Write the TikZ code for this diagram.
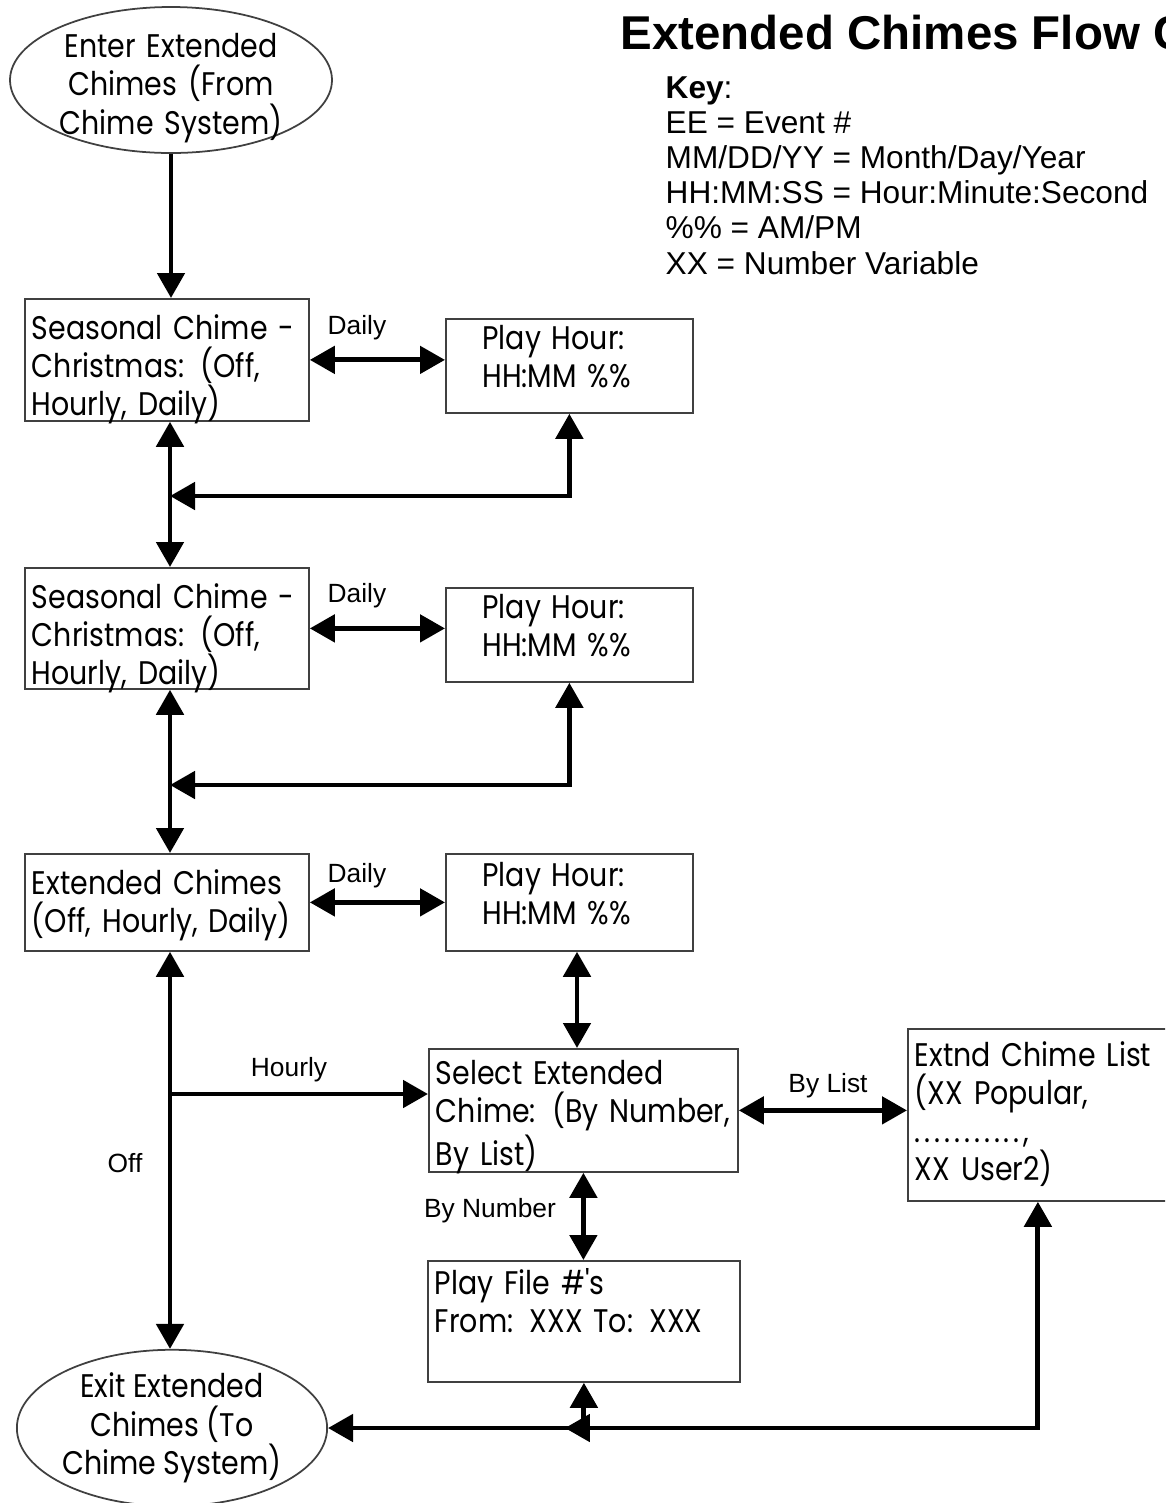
\documentclass[tikz,border=0pt]{standalone}
\usepackage{fontspec}
\setmainfont{Liberation Sans}
\newfontfamily\boxfont[FakeStretch=0.87]{Poppins}
\usetikzlibrary{shapes.geometric,arrows.meta}

\tikzset{
    chbox/.style={rectangle, draw=black!75, line width=0.5pt, anchor=north west,
        inner xsep=2pt, inner ysep=0pt, align=left, text height=0pt,
        font=\boxfont\fontsize{9.3}{10.8}\selectfont},
    hourbox/.style={chbox, minimum width=2.47cm, text width=1.74cm},
    chend/.style={ellipse, draw=black!75, line width=0.5pt, inner sep=0pt, align=center,
        font=\boxfont\fontsize{9.3}{11}\selectfont},
    lbl/.style={font=\fontsize{7.5}{9}\selectfont},
    keyline/.style={anchor=base west, inner sep=0pt, font=\fontsize{9}{10.5}\selectfont},
    arr/.style={line width=1.4pt, -{Triangle[length=2.5mm,width=2.7mm]}},
    darr/.style={line width=1.4pt, {Triangle[length=2.5mm,width=2.7mm]}-{Triangle[length=2.5mm,width=2.7mm]}}
}

\begin{document}
\begin{tikzpicture}
    \useasboundingbox (0,0) rectangle (11.65,-15.03);
    \clip (0,0) rectangle (11.65,-15.03);

    \node[anchor=base west, inner sep=0pt, font=\bfseries\fontsize{13.5}{16}\selectfont] (title) at (6.20,-0.49) {Extended Chimes Flow Chart};
    \node[keyline] (key0) at (6.65,-0.98) {\textbf{Key}:};
    \foreach \t [count=\i] in {EE = Event \#, MM/DD/YY = Month/Day/Year, HH:MM:SS = Hour:Minute:Second, \%\% = AM/PM, XX = Number Variable}
        \node[keyline] (key\i) at (6.65,-0.98-0.352*\i) {\t};

    \coordinate (spine) at (1.70,0);

    \node[chend, minimum width=3.22cm, minimum height=1.46cm, text width=2.25cm, text height=0pt, text depth=0.46cm] (enter) at (1.71,-0.80) {Enter Extended\\Chimes (From\\Chime System)};

    \node[chbox, minimum width=2.84cm, minimum height=1.22cm, text width=2.70cm, text depth=0.40cm] (box1) at (0.24,-2.98) {Seasonal Chime -\\Christmas: (Off,\\Hourly, Daily)};
    \node[hourbox, minimum height=0.94cm, text depth=0.32cm] (hour1) at (4.45,-3.18) {Play Hour:\\HH:MM \%\%};

    \node[chbox, minimum width=2.84cm, minimum height=1.21cm, text width=2.70cm, text depth=0.39cm] (box2) at (0.24,-5.67) {Seasonal Chime -\\Christmas: (Off,\\Hourly, Daily)};
    \node[hourbox, minimum height=0.94cm, text depth=0.32cm] (hour2) at (4.45,-5.87) {Play Hour:\\HH:MM \%\%};

    \node[chbox, minimum width=2.84cm, minimum height=0.97cm, text width=2.70cm, text depth=0.15cm] (box3) at (0.24,-8.53) {Extended Chimes\\(Off, Hourly, Daily)};
    \node[hourbox, minimum height=0.97cm, text depth=0.31cm] (hour3) at (4.45,-8.53) {Play Hour:\\HH:MM \%\%};

    \node[chbox, minimum width=3.09cm, minimum height=1.23cm, text width=2.95cm, text depth=0.51cm] (select) at (4.28,-10.48) {Select Extended\\Chime: (By Number,\\By List)};
    \node[chbox, minimum width=2.60cm, minimum height=1.72cm, text width=2.46cm, text depth=0.96cm] (extnd) at (9.07,-10.28) {Extnd Chime List\\(XX Popular,\\{\addfontfeature{LetterSpace=12}...........,}\\XX User2)};
    \node[chbox, minimum width=3.12cm, minimum height=1.21cm, text width=2.98cm, text depth=0.53cm] (file) at (4.27,-12.60) {Play File \#'s\\From: XXX To: XXX};

    \node[chend, minimum width=2.74cm, minimum height=1.50cm] (exit) at (1.72,-14.28) {Exit Extended\\Chimes (To\\Chime System)};

    % labels
    \node[lbl] (lday1) at (3.57,-3.28) {Daily};
    \node[lbl] (lday2) at (3.57,-5.96) {Daily};
    \node[lbl] (lday3) at (3.57,-8.76) {Daily};
    \node[lbl] (lhour) at (2.89,-10.70) {Hourly};
    \node[lbl] (loff) at (1.25,-11.63) {Off};
    \node[lbl] (lnum) at (4.90,-12.11) {By Number};
    \node[lbl] (llist) at (8.28,-10.86) {By List};

    % main column
    \draw[arr] (enter.south) -- (enter.south |- box1.north);
    \draw[darr] (spine |- box1.south) -- (spine |- box2.north);
    \draw[darr] (spine |- box2.south) -- (spine |- box3.north);
    \draw[darr] (spine |- box3.south) -- (spine |- exit.north);

    \foreach \b/\h in {box1/hour1, box2/hour2, box3/hour3}
        \draw[darr] (\b.east) -- (\b.east -| \h.west);

    \draw[darr] (hour1.south) |- (spine |- 0,-4.96);
    \draw[darr] (hour2.south) |- (spine |- 0,-7.85);
    \draw[darr] (hour3.south -| 5.77,0) -- (select.north -| 5.77,0);

    \draw[arr] (spine |- 0,-10.94) -- (select.west |- 0,-10.94);
    \draw[darr] (select.east) -- (select.east -| extnd.west);
    \draw[darr] (select.south) -- (select.south |- file.north);

    % bottom return
    \draw[darr] (extnd.south) |- (exit.east);
    \draw[arr] (file.south |- exit.east) -- (file.south);
    \draw[arr] (file.south |- exit.east) -- ++(-0.19,0);
\end{tikzpicture}
\end{document}
